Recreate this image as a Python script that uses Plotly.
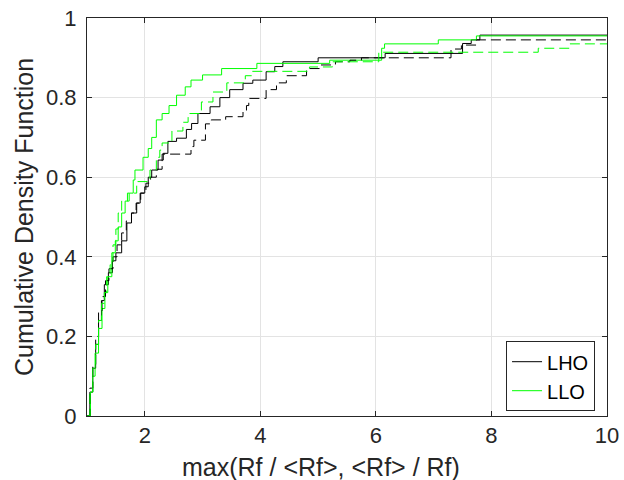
import plotly.graph_objects as go

# ---- data (step points of empirical CDFs) ----
lho_solid_x = [1.0, 1.05, 1.1, 1.15, 1.2, 1.25, 1.3, 1.37, 1.44, 1.5, 1.6, 1.69, 1.77, 1.86, 1.92,
               2.0, 2.06, 2.12, 2.23, 2.32, 2.4, 2.55, 2.72, 2.81, 2.92, 3.13, 3.3, 3.47, 3.7, 3.87,
               4.1, 4.25, 4.39, 5.0, 6.16, 7.5, 7.65, 7.8, 10.0]
lho_solid_y = [0.0, 0.06, 0.12, 0.18, 0.24, 0.29, 0.33, 0.36, 0.39, 0.41, 0.44, 0.485, 0.51, 0.535, 0.56,
               0.576, 0.60, 0.618, 0.643, 0.66, 0.69, 0.698, 0.72, 0.735, 0.76, 0.777, 0.80, 0.82, 0.836, 0.844,
               0.865, 0.878, 0.89, 0.90, 0.911, 0.936, 0.945, 0.957, 0.957]

llo_solid_x = [1.0, 1.06, 1.1, 1.14, 1.2, 1.26, 1.31, 1.36, 1.43, 1.49, 1.54, 1.6, 1.66, 1.73, 1.8,
               1.83, 1.97, 2.06, 2.12, 2.2, 2.3, 2.42, 2.55, 2.7, 2.8, 3.0, 3.33, 3.94, 5.2, 6.1,
               6.15, 7.08, 7.74, 10.0]
llo_solid_y = [0.0, 0.06, 0.1, 0.158, 0.22, 0.27, 0.31, 0.35, 0.41, 0.44, 0.475, 0.51, 0.54, 0.56, 0.593,
               0.618, 0.65, 0.672, 0.70, 0.744, 0.76, 0.78, 0.806, 0.827, 0.844, 0.857, 0.873, 0.886, 0.894, 0.924,
               0.935, 0.945, 0.955, 0.955]

lho_dash_x = [1.0, 1.05, 1.1, 1.15, 1.2, 1.26, 1.32, 1.38, 1.45, 1.52, 1.6, 1.68, 1.77, 1.85, 1.93,
              2.02, 2.1, 2.2, 2.3, 2.8, 2.85, 3.05, 3.15, 3.4, 3.7, 3.76, 3.8, 4.1, 4.28, 4.45,
              4.8, 5.05, 5.3, 5.55, 5.75, 7.3, 7.48, 7.74, 10.0]
lho_dash_y = [0.0, 0.07, 0.13, 0.2, 0.26, 0.3, 0.34, 0.37, 0.4, 0.43, 0.46, 0.49, 0.51, 0.535, 0.56,
              0.585, 0.6, 0.62, 0.658, 0.677, 0.693, 0.734, 0.744, 0.752, 0.765, 0.78, 0.798, 0.82, 0.837, 0.855,
              0.873, 0.882, 0.89, 0.894, 0.90, 0.922, 0.932, 0.945, 0.945]

llo_dash_x = [1.0, 1.05, 1.1, 1.15, 1.2, 1.25, 1.3, 1.34, 1.4, 1.45, 1.5, 1.54, 1.6, 1.7, 1.86,
              2.09, 2.2, 2.26, 2.3, 2.47, 2.66, 2.75, 2.98, 3.18, 3.42, 3.74, 3.85, 4.85, 5.25, 6.05,
              8.81, 9.36, 10.0]
llo_dash_y = [0.0, 0.06, 0.12, 0.18, 0.24, 0.283, 0.31, 0.35, 0.38, 0.43, 0.47, 0.51, 0.54, 0.56, 0.589,
              0.618, 0.65, 0.668, 0.686, 0.716, 0.738, 0.76, 0.789, 0.814, 0.837, 0.855, 0.866, 0.877, 0.89, 0.914,
              0.924, 0.935, 0.935]

x_ticks = [2, 4, 6, 8, 10]
y_ticks = [0, 0.2, 0.4, 0.6, 0.8, 1]
y_tick_labels = ["0", "0.2", "0.4", "0.6", "0.8", "1"]
x_label = "max(Rf / <Rf>, <Rf> / Rf)"
y_label = "Cumulative Density Function"

FONT = "Liberation Sans, Arial, sans-serif"
AX = "#262626"

fig = go.Figure()
fig.add_trace(go.Scatter(x=lho_solid_x, y=lho_solid_y, mode="lines", name="LHO",
                         line=dict(color="black", width=1, shape="hv")))
fig.add_trace(go.Scatter(x=llo_solid_x, y=llo_solid_y, mode="lines", name="LLO",
                         line=dict(color="#00ff00", width=1, shape="hv")))
fig.add_trace(go.Scatter(x=lho_dash_x, y=lho_dash_y, mode="lines", showlegend=False,
                         line=dict(color="black", width=1, shape="hv", dash="10px,5px")))
fig.add_trace(go.Scatter(x=llo_dash_x, y=llo_dash_y, mode="lines", showlegend=False,
                         line=dict(color="#00ff00", width=1, shape="hv", dash="10px,5px")))

axis_common = dict(showline=True, linecolor=AX, linewidth=1, mirror="allticks",
                   ticks="inside", ticklen=5, tickcolor=AX, showgrid=True,
                   gridcolor="#e3e3e3", gridwidth=1, zeroline=False, automargin=False,
                   tickfont=dict(family=FONT, size=22, color=AX))

fig.update_xaxes(range=[1, 10], tickvals=x_ticks, ticktext=[str(v) for v in x_ticks], **axis_common)
fig.update_yaxes(range=[0, 1], tickvals=y_ticks, ticktext=y_tick_labels,
                 ticklabelstandoff=5, **axis_common)

fig.update_layout(
    width=624, height=480,
    margin=dict(l=87, r=17, t=18, b=64, autoexpand=False),
    paper_bgcolor="white", plot_bgcolor="white",
    font=dict(family=FONT, color=AX),
    legend=dict(x=0.977, y=0.1, xanchor="right", yanchor="middle",
                bordercolor=AX, borderwidth=1, bgcolor="white",
                font=dict(family=FONT, size=20, color="black"),
                tracegroupgap=0),
    annotations=[
        dict(text=x_label, xref="paper", yref="paper", x=0.45, y=-0.128,
             xanchor="center", yanchor="middle", showarrow=False,
             font=dict(family=FONT, size=25, color=AX)),
        dict(text=y_label, xref="paper", yref="paper", x=-0.121, y=0.5,
             xanchor="center", yanchor="middle", textangle=-90, showarrow=False,
             font=dict(family=FONT, size=25, color=AX)),
    ],
)

fig.write_html("out.html", config={"displayModeBar": False},
               post_script="document.body.style.margin='0';document.body.style.padding='0';")
